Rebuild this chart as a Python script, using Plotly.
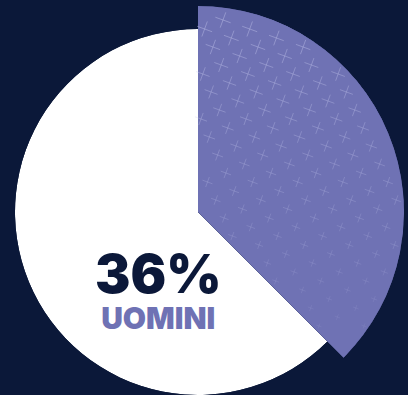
import plotly.graph_objects as go
import numpy as np

# Data
labels = ["UOMINI", "ALTRI"]
values = [36, 60]
headline = "36%"

BG = "#0b1839"
PURPLE = "#6f72b4"
WHITE = "#ffffff"
CROSS = (200, 202, 240)

W, H = 408, 395
CX, CY = 198, 212          # pie centre in pixels (from top-left)
R_MAIN, R_HIGHLIGHT = 183, 206

total = sum(values)
spans = [v / total * 360 for v in values]
starts = np.concatenate([[0], np.cumsum(spans)[:-1]])
centres = starts + np.array(spans) / 2


def sector_bbox(a0, a1):
    """Bounding box (unit radius) of a pie sector given screen angles a0->a1 ccw."""
    angs = np.linspace(a0, a1, 721)
    xs = np.concatenate([[0], np.cos(np.radians(angs))])
    ys = np.concatenate([[0], np.sin(np.radians(angs))])
    return xs.min(), xs.max(), ys.min(), ys.max()


def polar_layout(i, radius):
    # clockwise from 12 o'clock -> screen angles counter-clockwise from 3 o'clock
    a_end = 90 - starts[i]
    a_start = 90 - (starts[i] + spans[i])
    x0, x1, y0, y1 = sector_bbox(a_start, a_end)
    dom_x = [(CX + x0 * radius) / W, (CX + x1 * radius) / W]
    dom_y = [(H - (CY - y0 * radius)) / H, (H - (CY - y1 * radius)) / H]
    dom_x = [max(0, min(1, v)) for v in dom_x]
    dom_y = [max(0, min(1, v)) for v in dom_y]
    return dict(
        domain=dict(x=dom_x, y=dom_y),
        sector=[a_start, a_end],
        bgcolor="rgba(0,0,0,0)",
        hole=0,
        radialaxis=dict(visible=False, range=[0, 1]),
        angularaxis=dict(visible=False, direction="clockwise", rotation=90,
                         thetaunit="degrees"),
    )


# decorative cross texture for the highlighted slice: a tilted square lattice
# that fades out towards the bottom of the slice
u = np.array([18.4, -9.0])
v = np.array([8.3, 18.0])
origin = np.array([223.0, 20.0])
ii, jj = np.meshgrid(np.arange(-30, 31), np.arange(-30, 31))
px = origin[0] + ii * u[0] + jj * v[0]
py = origin[1] + ii * u[1] + jj * v[1]
px, py = px.ravel(), py.ravel()
dx, dy = px - CX, py - CY
tex_r = np.hypot(dx, dy) / R_HIGHLIGHT
tex_theta = np.degrees(np.arctan2(dx, -dy)) % 360
keep = (tex_r < 0.985) & (tex_theta > 1.5) & (tex_theta < spans[0] - 1.5) & (py < 330)
tex_r, tex_theta, py = tex_r[keep], tex_theta[keep], py[keep]
fade = np.clip(1 - (py - 6) / 320, 0, 1)
tex_alpha = 0.12 + 0.5 * fade
tex_size = 4 + 8 * fade
tex_colors = [f"rgba({CROSS[0]},{CROSS[1]},{CROSS[2]},{a:.2f})" for a in tex_alpha]

fig = go.Figure()

# other slice (white, base radius)
fig.add_trace(go.Barpolar(
    r=[1], theta=[centres[1]], width=[spans[1]], name=labels[1],
    marker=dict(color=WHITE, line=dict(width=0)),
    subplot="polar", hoverinfo="skip",
))

# highlighted slice (purple, larger radius); thin same-colour outline hides the seam
fig.add_trace(go.Barpolar(
    r=[1], theta=[centres[0]], width=[spans[0]], name=labels[0],
    marker=dict(color=PURPLE, line=dict(width=1, color=PURPLE)),
    subplot="polar2", hoverinfo="skip",
))

fig.add_trace(go.Scatterpolar(
    r=tex_r, theta=tex_theta, mode="markers", subplot="polar2",
    marker=dict(symbol="cross-thin", size=tex_size, angle=20,
                color=tex_colors, line=dict(width=1, color=tex_colors)),
    hoverinfo="skip", showlegend=False,
))

fig.update_layout(
    width=W, height=H,
    margin=dict(l=0, r=0, t=0, b=0),
    paper_bgcolor=BG, plot_bgcolor=BG,
    showlegend=False,
    polar=polar_layout(1, R_MAIN),
    polar2=polar_layout(0, R_HIGHLIGHT),
    annotations=[
        dict(text=(f"<span style='font-size:53px;color:{BG}'>{headline}</span><br>"
                   f"<span style='font-size:30px;color:{PURPLE}'>{labels[0]}</span>"),
             x=158 / W, y=1 - 289 / H, xref="paper", yref="paper",
             showarrow=False, xanchor="center", yanchor="middle", align="center",
             font=dict(family="Inter", size=28, color=BG, weight=900)),
    ],
)

fig.write_html("out.html")
